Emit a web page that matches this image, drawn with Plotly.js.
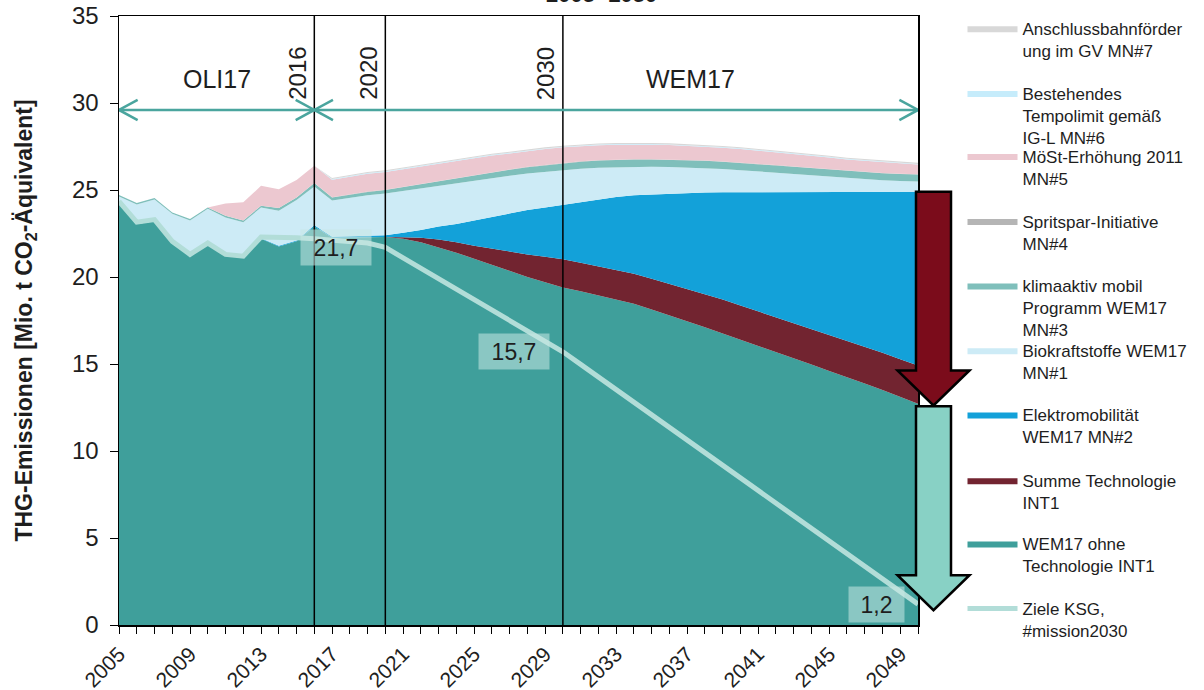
<!DOCTYPE html>
<html>
<head>
<meta charset="utf-8">
<script src="https://cdn.plot.ly/plotly-3.0.1.min.js"></script>
<style>html,body{margin:0;padding:0;background:#fff;}#chart{width:1204px;height:690px;}</style>
</head>
<body>
<div id="chart"></div>
<script>
// ---------------- DATA ----------------
const years = [2005,2006,2007,2008,2009,2010,2011,2012,2013,2014,2015,2016,
  2017,2018,2019,2020,2021,2022,2023,2024,2025,2026,2027,2028,2029,2030,
  2031,2032,2033,2034,2035,2036,2037,2038,2039,2040,2041,2042,2043,2044,
  2045,2046,2047,2048,2049,2050];

const wem17OhneTech = [24.25,23.05,23.2,21.95,21.2,21.85,21.2,21.1,22.2,21.75,22.05,22.9,
  22.25,22.28,22.3,22.3,22.2,22.0,21.7,21.4,21.05,20.7,20.35,20.0,19.7,19.4,
  19.18,18.95,18.7,18.46,18.13,17.8,17.45,17.11,16.75,16.4,16.04,15.68,15.32,14.97,
  14.6,14.25,13.88,13.5,13.1,12.72];

const summeTechInt1 = [0,0,0,0,0,0,0,0,0,0,0,0,
  0,0,0,0,0.08,0.25,0.45,0.6,0.75,0.93,1.12,1.3,1.47,1.62,
  1.64,1.65,1.7,1.72,1.77,1.8,1.87,1.92,1.95,1.96,1.98,2.01,2.03,2.03,
  2.08,2.1,2.12,2.15,2.18,2.2];

const elektromobilitaet = [0,0,0,0,0,0,0,0,0.03,0.05,0.05,0.08,
  0.07,0.07,0.08,0.1,0.27,0.45,0.75,1.05,1.45,1.82,2.18,2.55,2.83,3.13,
  3.48,3.85,4.2,4.52,4.85,5.2,5.51,5.83,6.17,6.51,6.86,7.19,7.53,7.88,
  8.21,8.54,8.89,9.24,9.62,9.98];

const biokraftstoffe = [0.38,1.12,1.26,1.68,2.05,2.07,2.22,2.04,1.77,2.01,2.32,2.22,
  2.08,2.2,2.32,2.4,2.4,2.4,2.35,2.35,2.3,2.25,2.17,2.1,2.05,2.0,
  1.92,1.83,1.71,1.63,1.58,1.52,1.46,1.4,1.33,1.27,1.19,1.12,1.04,0.96,
  0.87,0.79,0.73,0.67,0.62,0.59];

const klimaaktiv = [0.08,0.08,0.08,0.08,0.08,0.08,0.1,0.1,0.1,0.15,0.15,0.2,
  0.17,0.18,0.19,0.2,0.22,0.24,0.26,0.28,0.3,0.32,0.34,0.36,0.38,0.4,
  0.41,0.41,0.42,0.42,0.42,0.42,0.42,0.42,0.42,0.42,0.42,0.41,0.41,0.41,
  0.41,0.4,0.4,0.4,0.4,0.4];

const spritspar = [0,0,0,0,0,0,0,0,0,0,0,0,
  0.02,0.02,0.02,0.02,0.02,0.02,0.02,0.02,0.02,0.02,0.02,0.02,0.02,0.02,
  0.02,0.02,0.02,0.02,0.02,0.02,0.02,0.02,0.02,0.02,0.02,0.02,0.02,0.02,
  0.02,0.02,0.02,0.02,0.02,0.02];

const moestErhoehung = [0,0,0,0,0,0,0.71,1.05,1.14,1.09,1.0,0.99,
  1.0,1.01,1.02,1.02,1.01,1.0,0.99,0.97,0.95,0.94,0.92,0.91,0.9,0.88,
  0.87,0.86,0.85,0.84,0.83,0.82,0.81,0.8,0.79,0.78,0.76,0.74,0.72,0.7,
  0.68,0.65,0.63,0.6,0.58,0.55];

const tempolimit = [0,0,0,0,0,0,0,0,0,0,0,0,
  0.04,0.04,0.04,0.04,0.04,0.04,0.04,0.04,0.04,0.04,0.04,0.04,0.04,0.04,
  0.04,0.04,0.04,0.04,0.04,0.04,0.04,0.04,0.04,0.04,0.04,0.04,0.04,0.04,
  0.04,0.04,0.04,0.04,0.04,0.04];

const anschlussbahn = [0,0,0,0,0,0,0,0,0,0,0,0,
  0.06,0.06,0.06,0.06,0.06,0.06,0.06,0.06,0.06,0.06,0.06,0.06,0.06,0.06,
  0.06,0.06,0.06,0.06,0.06,0.06,0.06,0.06,0.06,0.06,0.06,0.06,0.06,0.06,
  0.06,0.06,0.06,0.06,0.06,0.06];

const zieleKSG = [24.35,23.15,23.3,22.05,21.3,21.95,21.3,21.2,22.3,22.3,22.25,22.2,
  22.1,22.05,21.95,21.7,21.1,20.5,19.9,19.3,18.7,18.1,17.5,16.9,16.3,15.7,
  14.98,14.25,13.53,12.8,12.08,11.35,10.63,9.9,9.18,8.45,7.73,7.0,6.28,5.55,
  4.83,4.1,3.38,2.65,1.93,1.2];

const labelYears = [2020, 2030, 2050];           // years whose target value is labelled
const tickYears = [2005,2009,2013,2017,2021,2025,2029,2033,2037,2041,2045,2049];
const markerYears = [2016, 2020, 2030];          // vertical separators
const periodNames = ['OLI17', 'WEM17'];
const periodSpans = [[2005, 2016], [2016, 2050]];
const periodLabelYears = [2010.5, 2037.2];
const chartPeriod = '2005- 2050';
const yTitle = 'THG-Emissionen [Mio. t CO<sub>2</sub>-Äquivalent]';

// ---------------- STYLE ----------------
const FONT = 'Liberation Sans, Arial, sans-serif';
const TXT = '#1e1e1e';
const series = [
  {name:'WEM17 ohne<br>Technologie INT1', y:wem17OhneTech, color:'#3f9f9b'},
  {name:'Summe Technologie<br>INT1', y:summeTechInt1, color:'#722430'},
  {name:'Elektromobilität<br>WEM17 MN#2', y:elektromobilitaet, color:'#13a1d9'},
  {name:'Biokraftstoffe WEM17<br>MN#1', y:biokraftstoffe, color:'#cdebf6'},
  {name:'klimaaktiv mobil<br>Programm WEM17<br>MN#3', y:klimaaktiv, color:'#7fbfbb'},
  {name:'Spritspar-Initiative<br>MN#4', y:spritspar, color:'#b5b5b5'},
  {name:'MöSt-Erhöhung 2011<br>MN#5', y:moestErhoehung, color:'#ecc8d0'},
  {name:'Bestehendes<br>Tempolimit gemäß<br>IG-L MN#6', y:tempolimit, color:'#c6ecfb'},
  {name:'Anschlussbahnförder<br>ung im GV MN#7', y:anschlussbahn, color:'#d8d8d8'}
];
// legend entry vertical positions (px of swatch centre), top to bottom order
const legendOrder = [8,7,6,5,4,3,2,1,0,'ziele'];
const legendPx = [29.7, 94.5, 157.5, 222.5, 287, 351.7, 416, 481.7, 545, 610];

const W = 1204, H = 690;
const M = {l:119, r:286, t:16, b:65};
const PW = W - M.l - M.r, PH = H - M.t - M.b;
const YMAX = 35;
const pxToPaperY = py => (H - M.b - py) / PH;
const pxToPaperX = px => (px - M.l) / PW;
const LEG_OFF = 19;

const traces = [];
const legendLayouts = {};
legendOrder.forEach((key, i) => {
  const lname = i === 0 ? 'legend' : 'legend' + (i + 1);
  legendLayouts[lname] = {
    xref: 'container', yref: 'container',
    x: 962.5 / W, xanchor: 'left',
    y: 1 - (legendPx[i] - LEG_OFF) / H, yanchor: 'top',
    bgcolor: 'rgba(0,0,0,0)', borderwidth: 0,
    itemwidth: 50, valign: 'top', tracegroupgap: 0,
    font: {family: FONT, size: 17, color: TXT}
  };
  if (key === 'ziele') return;
  series[key].legend = lname;
});

series.forEach(s => {
  traces.push({
    type: 'scatter', mode: 'lines', x: years, y: s.y, name: s.name,
    stackgroup: 'one', line: {width: 0, color: s.color}, fillcolor: s.color,
    legend: s.legend, hoverinfo: 'skip'
  });
});
traces.push({
  type: 'scatter', mode: 'lines', x: years, y: zieleKSG, name: 'Ziele KSG,<br>#mission2030',
  line: {color: '#b2ddd8', width: 5}, legend: 'legend10', hoverinfo: 'skip'
});

// ---------------- SHAPES / ANNOTATIONS ----------------
const shapes = [];
markerYears.forEach(yr => shapes.push({type:'line', xref:'x', yref:'y', x0:yr, x1:yr, y0:0, y1:YMAX,
  line:{color:'#000', width:1.5}}));

const ARR_Y = 29.6, HEAD_DX = 1.05, HEAD_DY = 0.58, ARR_COL = '#4aa59e';
periodSpans.forEach(([a, b]) => {
  shapes.push({type:'line', xref:'x', yref:'y', x0:a, x1:b, y0:ARR_Y, y1:ARR_Y, line:{color:ARR_COL, width:2.5}});
  shapes.push({type:'path', xref:'x', yref:'y',
    path:`M${a+HEAD_DX},${ARR_Y+HEAD_DY} L${a},${ARR_Y} L${a+HEAD_DX},${ARR_Y-HEAD_DY}`, line:{color:ARR_COL, width:2.5}});
  shapes.push({type:'path', xref:'x', yref:'y',
    path:`M${b-HEAD_DX},${ARR_Y+HEAD_DY} L${b},${ARR_Y} L${b-HEAD_DX},${ARR_Y-HEAD_DY}`, line:{color:ARR_COL, width:2.5}});
});

// reduction arrows beside 2050
const last = years.length - 1;
const totalWithE = wem17OhneTech[last] + summeTechInt1[last] + elektromobilitaet[last];
function downArrow(vTop, vTip, fill) {
  const cx = pxToPaperX(M.l + PW + 15.5);
  const bw = 17.5 / PW, hw = 36 / PW;
  const yt = vTop / YMAX, ytip = vTip / YMAX, yh = vTip / YMAX + 35 / PH;
  return {type:'path', xref:'paper', yref:'paper', fillcolor: fill, line:{color:'#000', width:2.5},
    path:`M${cx-bw},${yt} L${cx+bw},${yt} L${cx+bw},${yh} L${cx+hw},${yh} L${cx},${ytip} L${cx-hw},${yh} L${cx-bw},${yh} Z`};
}
shapes.push(downArrow(totalWithE, wem17OhneTech[last] - 0.1, '#7b0c1b'));
shapes.push(downArrow(wem17OhneTech[last] - 0.15, zieleKSG[last] - 0.35, '#88d1c5'));

const annotations = [];
periodNames.forEach((n, i) => annotations.push({x: periodLabelYears[i], y: 31.4, xref:'x', yref:'y', text:n,
  showarrow:false, font:{family:FONT, size:25, color:TXT}}));
markerYears.forEach(yr => annotations.push({x: yr, y: 31.7, xref:'x', yref:'y', text:String(yr),
  textangle:-90, xshift:-17, showarrow:false, font:{family:FONT, size:24, color:TXT}}));
labelYears.forEach(yr => {
  const v = zieleKSG[years.indexOf(yr)];
  annotations.push({x: yr, y: v, xref:'x', yref:'y', text: v.toFixed(1).replace('.', ','),
    xanchor:'right', xshift: -13, showarrow:false, bgcolor:'rgba(200,232,228,0.55)',
    width: v >= 10 ? 64 : 49, height: 29, borderpad: 3,
    font:{family:FONT, size:23, color:TXT}});
});
annotations.push({x: pxToPaperX(601), y: pxToPaperY(9), xref:'paper', yref:'paper', yanchor:'bottom',
  text:'<b>' + chartPeriod + '</b>', showarrow:false, font:{family:FONT, size:22, color:TXT}});

const layout = Object.assign({
  width: W, height: H, margin: M,
  paper_bgcolor: '#fff', plot_bgcolor: '#fff',
  font: {family: FONT, color: TXT},
  showlegend: true,
  xaxis: {
    range: [2005, 2050], tickmode: 'array', tickvals: tickYears, ticktext: tickYears.map(String),
    tickangle: -45, ticks: 'outside', ticklen: 7, tickcolor: '#000', tickwidth: 1,
    showline: true, linecolor: '#000', linewidth: 1.5, mirror: true,
    showgrid: false, zeroline: false,
    tickfont: {family: FONT, size: 21, color: TXT},
    minor: {tickmode: 'linear', tick0: 2005, dtick: 1, ticks: 'outside', ticklen: 7, tickcolor: '#000', showgrid: false}
  },
  yaxis: {
    range: [0, YMAX], tick0: 0, dtick: 5, ticks: 'outside', ticklen: 8, tickcolor: '#000',
    showline: true, linecolor: '#000', linewidth: 1.5, mirror: true,
    showgrid: false, zeroline: false, ticklabelstandoff: 6,
    tickfont: {family: FONT, size: 24, color: TXT},
    title: {text: yTitle, standoff: 33, font: {family: FONT, size: 23, color: TXT, weight: 'bold'}}
  },
  shapes: shapes,
  annotations: annotations
}, legendLayouts);

Plotly.newPlot('chart', traces, layout, {displayModeBar: false, staticPlot: true});
</script>
</body>
</html>
